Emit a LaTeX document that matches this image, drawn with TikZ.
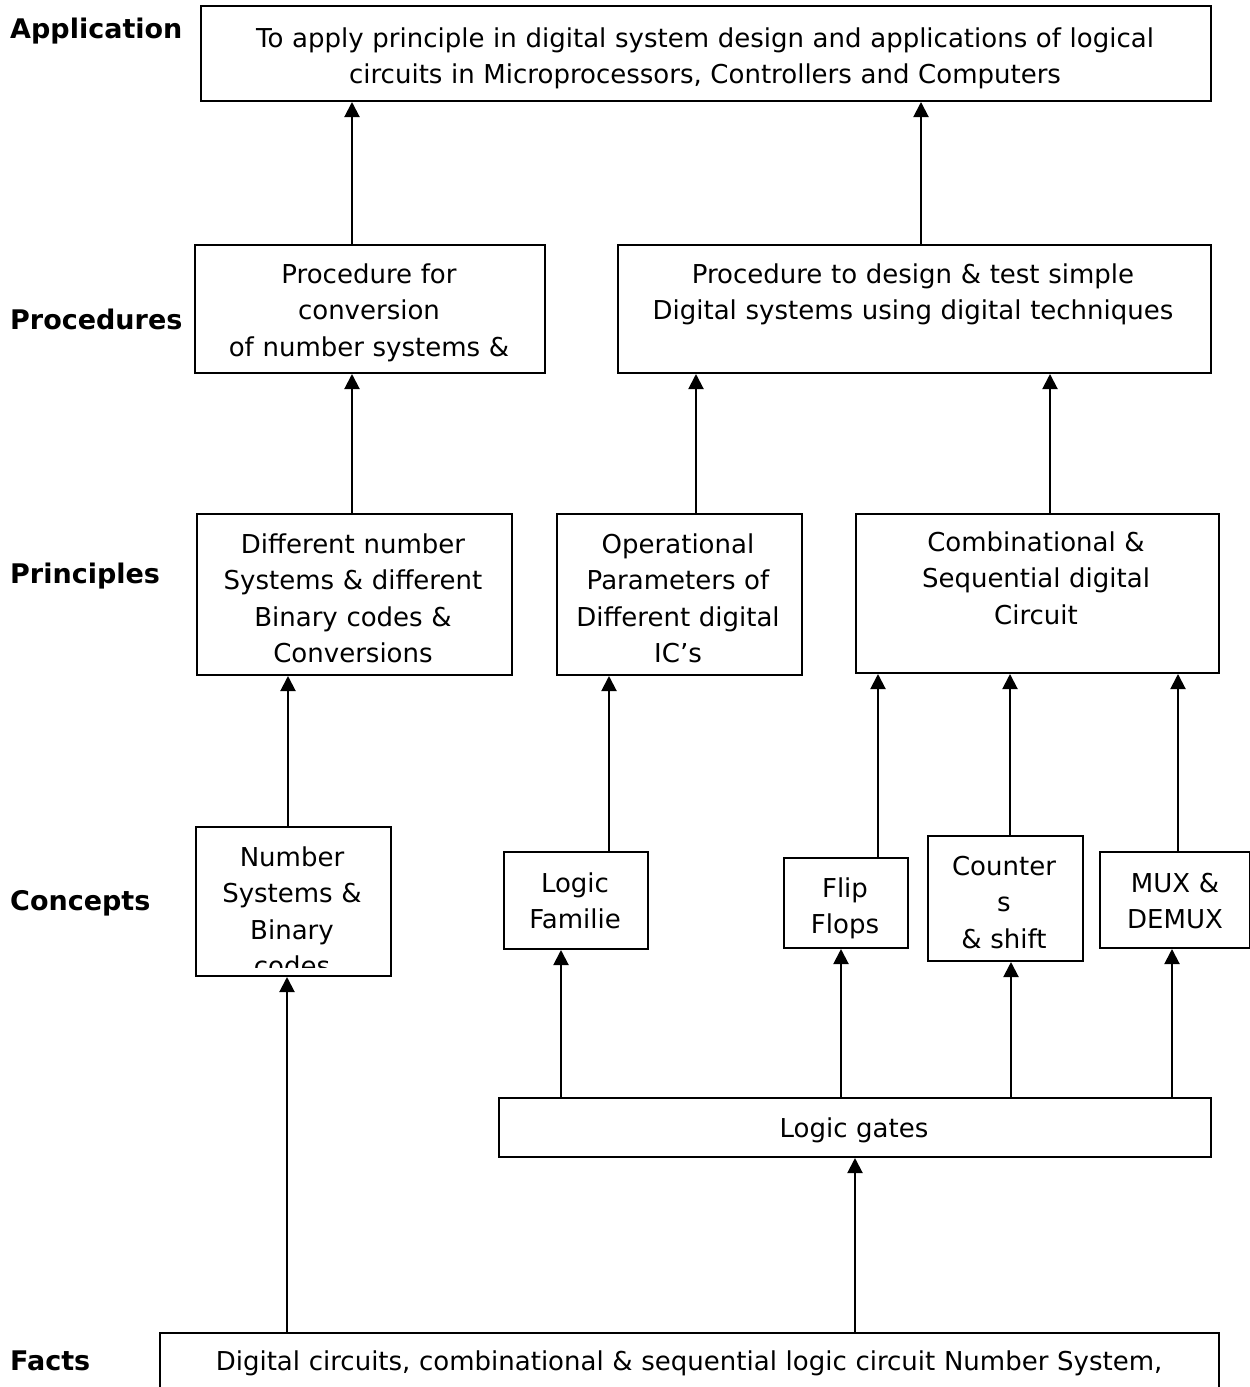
\documentclass[tikz,border=0pt]{standalone}
\usepackage{fontspec}
\setmainfont{DejaVu Sans}
\usetikzlibrary{arrows.meta}

\tikzset{
  box/.style={draw=black, line width=2pt, rectangle, inner sep=0pt, anchor=north west},
  txt/.style={inner sep=0pt, anchor=base, align=center,
    font=\fontsize{26pt}{36.6pt}\selectfont},
  lvl/.style={inner sep=0pt, anchor=base west,
    font=\fontsize{27pt}{30pt}\selectfont\bfseries},
  arr/.style={line width=2pt, -{Triangle[width=15pt,length=15pt]}}
}

\begin{document}
\begin{tikzpicture}[x=1pt, y=-1pt]
\useasboundingbox (0,0) rectangle (1250,1387);
\clip (0,0) rectangle (1250,1387);

% level captions on the left
\node[lvl] (l-app)  at (10,38)   {Application};
\node[lvl] (l-proc) at (10,329)  {Procedures};
\node[lvl] (l-prin) at (10,583)  {Principles};
\node[lvl] (l-conc) at (10,910)  {Concepts};
\node[lvl] (l-fact) at (10,1370) {Facts};

% boxes
\node[box, minimum width=1010pt, minimum height=95pt]  (app)   at (200,5)    {};
\node[box, minimum width=350pt,  minimum height=128pt] (proc1) at (194,244)  {};
\node[box, minimum width=593pt,  minimum height=128pt] (proc2) at (617,244)  {};
\node[box, minimum width=315pt,  minimum height=161pt] (prin1) at (196,513)  {};
\node[box, minimum width=245pt,  minimum height=161pt] (prin2) at (556,513)  {};
\node[box, minimum width=363pt,  minimum height=159pt] (prin3) at (855,513)  {};
\node[box, minimum width=195pt,  minimum height=149pt] (conc1) at (195,826)  {};
\node[box, minimum width=144pt,  minimum height=97pt]  (logfam) at (503,851) {};
\node[box, minimum width=124pt,  minimum height=90pt]  (flip)  at (783,857)  {};
\node[box, minimum width=155pt,  minimum height=125pt] (count) at (927,835)  {};
\node[box, minimum width=150pt,  minimum height=96pt]  (mux)   at (1099,851) {};
\node[box, minimum width=712pt,  minimum height=59pt]  (gates) at (498,1097) {};
\node[box, minimum width=1059pt, minimum height=70pt]  (facts) at (159,1332) {};

% box texts
\node[txt, text width=1000pt] (t-app) at (705,47)
  {To apply principle in digital system design and applications of logical\\circuits in Microprocessors, Controllers and Computers};
\node[txt, text width=340pt] (t-proc1) at (369,283)
  {Procedure for\\conversion\\of number systems \&};
\node[txt, text width=580pt] (t-proc2) at (913,283)
  {Procedure to design \& test simple\\Digital systems using digital techniques};
\node[txt, text width=310pt] (t-prin1) at (353,553)
  {Different number\\Systems \& different\\Binary codes \&\\Conversions};
\node[txt, text width=240pt] (t-prin2) at (678,553)
  {Operational\\Parameters of\\Different digital\\IC’s};
\node[txt, text width=355pt] (t-prin3) at (1036,551)
  {Combinational \&\\Sequential digital\\Circuit};
\begin{scope}
  \clip (196,827) rectangle (389,967);
  \node[txt, text width=190pt] (t-conc1) at (292,866)
    {Number\\Systems \&\\Binary\\codes};
\end{scope}
\node[txt, text width=140pt] (t-logfam) at (575,892) {Logic\\Familie};
\node[txt, text width=120pt] (t-flip)   at (845,897) {Flip\\Flops};
\node[txt, text width=150pt] (t-count)  at (1004,875) {Counter\\s\\\& shift};
\node[txt, text width=148pt] (t-mux)    at (1175,892) {MUX \&\\DEMUX};
\node[txt, text width=700pt] (t-gates)  at (854,1137) {Logic gates};
\node[txt, text width=1050pt] (t-facts) at (689,1370)
  {Digital circuits, combinational \& sequential logic circuit Number System,};

% connectors, each running straight up into the box above
\draw[arr] (proc1.north -| 352,0)  -- (app.south -| 352,0);
\draw[arr] (proc2.north -| 921,0)  -- (app.south -| 921,0);
\draw[arr] (prin1.north -| 352,0)  -- (proc1.south -| 352,0);
\draw[arr] (prin2.north -| 696,0)  -- (proc2.south -| 696,0);
\draw[arr] (prin3.north -| 1050,0) -- (proc2.south -| 1050,0);
\draw[arr] (conc1.north -| 288,0)  -- (prin1.south -| 288,0);
\draw[arr] (logfam.north -| 609,0) -- (prin2.south -| 609,0);
\draw[arr] (flip.north -| 878,0)   -- (prin3.south -| 878,0);
\draw[arr] (count.north -| 1010,0) -- (prin3.south -| 1010,0);
\draw[arr] (mux.north -| 1178,0)   -- (prin3.south -| 1178,0);
\draw[arr] (gates.north -| 561,0)  -- (logfam.south -| 561,0);
\draw[arr] (gates.north -| 841,0)  -- (flip.south -| 841,0);
\draw[arr] (gates.north -| 1011,0) -- (count.south -| 1011,0);
\draw[arr] (gates.north -| 1172,0) -- (mux.south -| 1172,0);
\draw[arr] (facts.north -| 287,0)  -- (conc1.south -| 287,0);
\draw[arr] (facts.north -| 855,0)  -- (gates.south -| 855,0);
\end{tikzpicture}
\end{document}
